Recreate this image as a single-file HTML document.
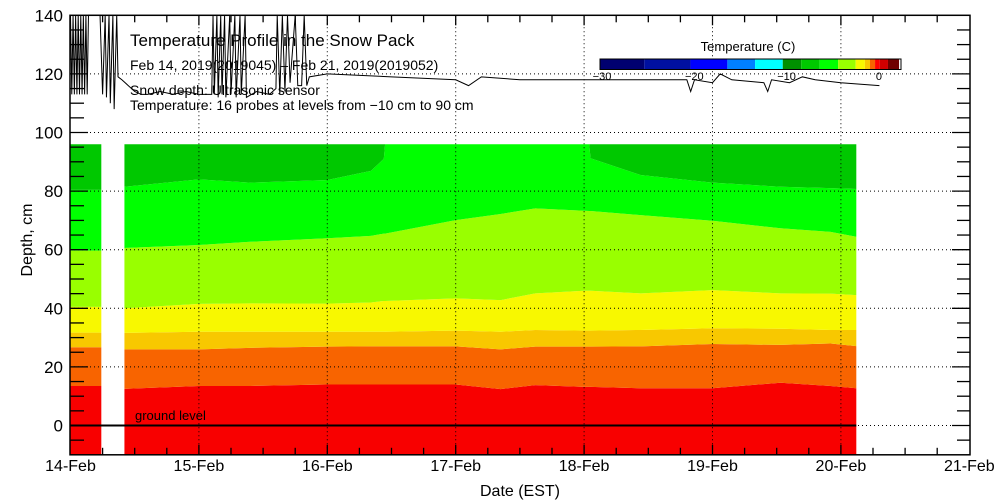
<!DOCTYPE html>
<html><head><meta charset="utf-8"><style>
html,body{margin:0;padding:0;background:#fff}
svg{display:block;font-family:"Liberation Sans","DejaVu Sans",sans-serif}
</style></head><body>
<svg id="chart" width="1000" height="500" viewBox="0 0 1000 500" xmlns="http://www.w3.org/2000/svg">
<g id="bands"></g>
<g id="grid"></g>
<g id="snow"></g>
<g id="axes"></g>
<g id="legend"></g>
<text x="130" y="46" font-size="17">Temperature Profile in the Snow Pack</text>
<text x="130" y="70" font-size="14">Feb 14, 2019(2019045) – Feb 21, 2019(2019052)</text>
<text x="130" y="95" font-size="14">Snow depth: Ultrasonic sensor</text>
<text x="130" y="110" font-size="14">Temperature: 16 probes at levels from −10 cm to 90 cm</text>
<text x="135" y="420" font-size="13">ground level</text>
<text x="520" y="496" font-size="16" text-anchor="middle">Date (EST)</text>
<text x="32" y="240" font-size="16" text-anchor="middle" transform="rotate(-90 32 240)">Depth, cm</text>
</svg>
<script>
const xTickLabels=["14-Feb","15-Feb","16-Feb","17-Feb","18-Feb","19-Feb","20-Feb","21-Feb"];
const yTicks=[0,20,40,60,80,100,120,140];
const seg1Days=[0,0.24];
const seg1Red=[13.5,13.5],seg1Orange=[26.7,26.7],seg1LightOrange=[31.7,31.7],seg1Yellow=[40.5,40.5],seg1YellowGreen=[59.7,59.7],seg1Green=[80.4,80.4];
const seg2Days=[0.42,1.0,1.4,2.0,2.34,2.44,2.45,3.0,3.35,3.62,4.0,4.04,4.05,4.44,5.0,5.53,5.92,6.12];
const seg2Red=[12.5,13.5,13.5,14,14,14,14,14,12.4,13.8,13.2,13.2,13.2,12.7,12.7,14.6,13.5,12.7];
const seg2Orange=[26,26,26.5,26.9,27,27,27,27,26,26.9,26.9,26.9,26.9,27,27.8,27.5,28,27.1];
const seg2LightOrange=[31.6,32,32,32,32,32,32,32.4,32,32.6,32.4,32.4,32.4,32.6,33.2,33,32.6,32.6];
const seg2Yellow=[40,41.5,41.7,41.6,42,42.5,42.5,43.4,42.8,45.1,46,46,46,45.1,46.2,45.1,45,44.5];
const seg2YellowGreen=[60.6,61.6,62.7,63.9,64.7,65.5,65.5,70.1,72.2,74.1,73.3,73.2,73.2,71.8,69.9,67.3,66.1,64.4];
const seg2Green=[81.5,84,82.9,83.8,86.9,91,96,96,96,96,96,96,91.2,85.5,82.9,81.5,81,80.7];
const bandBottom=-10,bandTop=96;
const snowDays=[0,0.01,0.02,0.03,0.04,0.05,0.06,0.07,0.08,0.09,0.1,0.11,0.12,0.13,0.14,0.23,0.25,0.27,0.28,0.3,0.31,0.33,0.34,0.36,0.37,0.4,0.45,0.5,0.55,0.6,0.7,0.8,0.9,1.0,1.1,1.11,1.12,1.14,1.15,1.17,1.18,1.2,1.21,1.24,1.25,1.28,1.29,1.32,1.33,1.36,1.37,1.45,1.55,1.6,1.61,1.63,1.65,1.67,1.69,1.71,1.75,1.77,1.8,1.82,1.84,1.86,2.0,2.5,3.0,3.1,3.2,3.5,4.0,4.5,4.8,4.83,4.86,5.0,5.06,5.15,5.4,5.43,5.46,5.6,5.7,5.8,6.0,6.3];
const snowDepth=[140,113,140,113,140,113,140,113,140,113,140,113,140,113,140,140,113,140,112,140,110,140,108,140,119,118,116,114,113,113,114,113,114,113,113,140,113,140,112,140,113,140,112,140,113,140,112,140,113,140,112,114,113,115,140,113,140,114,140,117,140,116,116,140,116,119,120,119,118,116,119,118,118,118,118,114,118,117,120,118,117,114,118,117,119,118,117,116];
const legendValues=[-30,-25.2,-20.2,-16.2,-13.2,-10.2,-8.2,-6.2,-4.2,-2.3,-1.3,-0.75,-0.2,0.3,1.2,2.4];
const legendColors=["#000070","#0010a0","#0000ff","#0080ff","#00ffff","#009000","#00c800","#00ff00","#99ff00","#f8f800","#f8c800","#f86400","#ff0000","#d00000","#700000"];
const legendTicks=[-30,-20,-10,0];

const NS="http://www.w3.org/2000/svg";
const X=d=>70.5+d*128.4;
const Y=v=>425.5-v*2.93;
const LX=t=>602+(t+30)*9.23;
function mk(tag,attrs,parent){const e=document.createElementNS(NS,tag);for(const k in attrs)e.setAttribute(k,attrs[k]);parent.appendChild(e);return e;}

const bands=document.getElementById('bands');
const bandColors=["#f80000","#f86400","#f8c800","#f8f800","#99ff00","#00ff00","#00c800"];
const bandNames=["band-red","band-orange","band-light-orange","band-yellow","band-yellow-green","band-green","band-dark-green"];
function drawSeg(days,bounds){
  const full=[days.map(()=>bandBottom)].concat(bounds).concat([days.map(()=>bandTop)]);
  for(let b=0;b<7;b++){
    const lo=full[b],hi=full[b+1];
    let pts=[];
    for(let i=0;i<days.length;i++)pts.push(X(days[i])+","+Y(hi[i]));
    for(let i=days.length-1;i>=0;i--)pts.push(X(days[i])+","+Y(lo[i]));
    const p=mk('polygon',{points:pts.join(' '),fill:bandColors[b]},bands);
    
    
  }
}
drawSeg(seg1Days,[seg1Red,seg1Orange,seg1LightOrange,seg1Yellow,seg1YellowGreen,seg1Green]);
drawSeg(seg2Days,[seg2Red,seg2Orange,seg2LightOrange,seg2Yellow,seg2YellowGreen,seg2Green]);

const grid=document.getElementById('grid');
for(let d=1;d<7;d++){const l=mk('line',{x1:X(d),x2:X(d),y1:Y(140),y2:Y(-10),stroke:"#000","stroke-width":1,"stroke-dasharray":"1,3"},grid);

}
for(const v of yTicks){if(v===140)continue;const l=mk('line',{x1:70,x2:970,y1:Y(v),y2:Y(v),stroke:"#000","stroke-width":1,"stroke-dasharray":"1,3"},grid);

}
const gl=mk('line',{x1:X(0),x2:X(seg2Days[seg2Days.length-1]),y1:Y(0),y2:Y(0),stroke:"#000","stroke-width":2},grid);



const snow=document.getElementById('snow');
const sp=mk('polyline',{points:snowDays.map((d,i)=>X(d)+","+Y(snowDepth[i])).join(' '),fill:"none",stroke:"#000","stroke-width":1},snow);



const axes=document.getElementById('axes');
const fr=mk('rect',{x:70,y:Y(140),width:900,height:Y(-10)-Y(140),fill:"none",stroke:"#000","stroke-width":1.5},axes);


for(let v=-5;v<140;v+=5){
  const long=(v%20===0);
  mk('line',{x1:70,x2:long?88:84,y1:Y(v),y2:Y(v),stroke:"#000","stroke-width":1.3},axes);
  mk('line',{x1:970,x2:long?952:957,y1:Y(v),y2:Y(v),stroke:"#000","stroke-width":1.3},axes);
}
for(let q=1;q<28;q++){const d=q/4;
  mk('line',{x1:X(d),x2:X(d),y1:Y(-10),y2:Y(-10)-(q%4===0?10:7),stroke:"#000","stroke-width":1.3},axes);
  mk('line',{x1:X(d),x2:X(d),y1:Y(140),y2:Y(140)+(q%4===0?10:7),stroke:"#000","stroke-width":1.3},axes);
}
yTicks.forEach(v=>{const t=mk('text',{x:63,y:Y(v)+6,"font-size":17,"text-anchor":"end"},axes);t.textContent=v;

});
xTickLabels.forEach((s,i)=>{const t=mk('text',{x:X(i),y:471,"font-size":16,"text-anchor":"middle"},axes);t.textContent=s;

});

const lg=document.getElementById('legend');
const lt=mk('text',{x:748,y:51,"font-size":13,"text-anchor":"middle"},lg);lt.textContent="Temperature (C)";


for(let i=0;i<legendColors.length;i++){
  const x0=LX(legendValues[i])-2;const x1=LX(legendValues[i+1])-2;
  const r=mk('rect',{x:x0,y:59,width:x1-x0,height:10.5,fill:legendColors[i]},lg);
  
  
}
const lb=mk('rect',{x:600,y:59,width:301,height:10.5,fill:"none",stroke:"#000","stroke-width":1},lg);


legendTicks.forEach(v=>{const t=mk('text',{x:LX(v),y:80,"font-size":11,"text-anchor":"middle"},lg);t.textContent=(v<0?"−":"")+Math.abs(v);

});
</script>
</body></html>
